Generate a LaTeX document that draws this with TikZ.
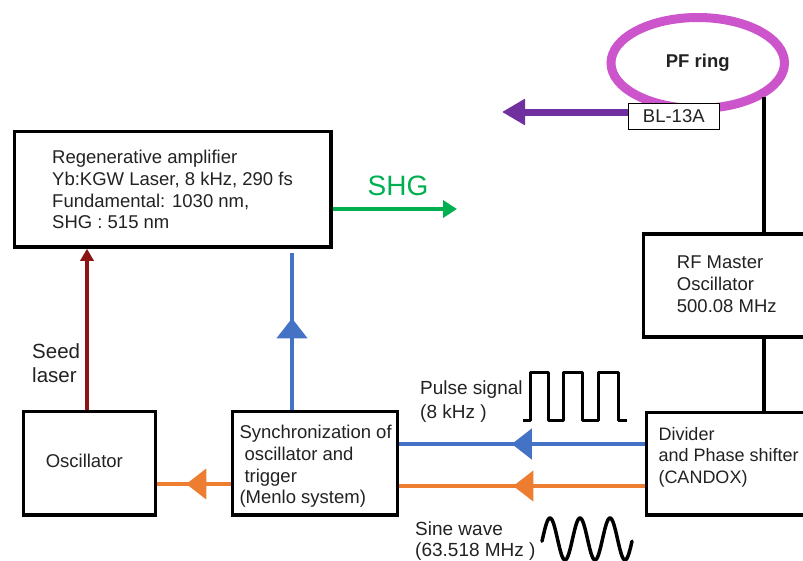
\documentclass[tikz,border=0pt]{standalone}
\usepackage{fontspec}
\setmainfont{Liberation Sans}
\usetikzlibrary{shapes.geometric,arrows.meta,decorations.markings}
\definecolor{cblue}{HTML}{4472C4}
\definecolor{corange}{HTML}{ED7D31}
\definecolor{cgreen}{HTML}{00B050}
\definecolor{cpurple}{HTML}{7030A0}
\definecolor{cring}{HTML}{CC55CC}
\definecolor{cred}{HTML}{8B1414}
\definecolor{ctext}{HTML}{222222}
\begin{document}
\begin{tikzpicture}[x=1pt,y=-1pt,
  box/.style={draw=black, line width=3.5pt, fill=white, inner sep=0pt, rectangle},
  txt/.style={inner sep=0pt, anchor=north west, align=left, text=ctext, font=\fontsize{18.5}{21.7}\selectfont},
  conn/.style={line width=4pt},
  midtri/.style={postaction={decorate}, decoration={markings, mark=at position #1 with {\arrow{Triangle[length=20pt,width=30pt]}}}},
  sig/.style={line width=3pt, line join=round, line cap=round}]
\useasboundingbox (0,0) rectangle (803,560);
% ring and beamline
\node[draw=cring, line width=9pt, ellipse, minimum width=173.5pt, minimum height=91pt, inner sep=0pt,
      font=\fontsize{18.5}{21.7}\selectfont\bfseries, text=ctext] (ring) at (697.75,63) {PF ring};
\coordinate (tap) at (764,97);
\coordinate (bltip) at (502,112);
\coordinate (shgend) at (457,209);
\coordinate (seedx) at (87,0);
\coordinate (syncx) at (292,0);
\coordinate (pulsey) at (0,444);
\coordinate (siney) at (0,486);
\coordinate (osciy) at (0,484);
% boxes
\node[box, minimum width=316.5pt, minimum height=115.5pt] (regen) at (172.75,189.25) {};
\node[box, minimum width=132pt, minimum height=103.5pt] (osc) at (89.5,463.25) {};
\node[box, minimum width=165pt, minimum height=103.5pt] (sync) at (315,463.25) {};
\node[box, minimum width=173.5pt, minimum height=102.5pt] (div) at (733.25,463.75) {};
\node[box, minimum width=176.5pt, minimum height=103pt] (rf) at (731.75,285.5) {};
\node[box, line width=1.5pt, minimum width=91pt, minimum height=26pt, text=ctext,
      font=\fontsize{18.5}{21.7}\selectfont] (bl) at (673.8,116.3) {BL-13A};
% connectors
\draw[conn] (tap) -- (tap |- rf.north);
\draw[conn] (tap |- rf.south) -- (tap |- div.north);
\draw[cpurple, line width=7pt, -{Triangle[length=23pt,width=25pt]}] (bl.west |- bltip) -- (bltip);
\draw[cgreen, line width=4.5pt, -{Triangle[length=14pt,width=17pt]}] (regen.east |- shgend) -- (shgend);
\draw[cred, line width=4.5pt, -{Triangle[length=12pt,width=13pt]}] (seedx |- osc.north) -- (seedx |- regen.south);
\draw[cblue, conn, midtri=91.5pt] (syncx |- sync.north) -- ([yshift=-4pt]syncx |- regen.south);
\draw[cblue, conn, midtri=133pt] (pulsey -| div.west) -- (pulsey -| sync.east);
\draw[corange, conn, midtri=131.5pt] (siney -| div.west) -- (siney -| sync.east);
\draw[corange, conn, midtri=44.5pt] (osciy -| sync.west) -- (osciy -| osc.east);
% signals
\draw[sig, line cap=butt] (523,420) -- (530,420) -- (530,372) -- (548,372) -- (548,420) -- (563,420) -- (563,372)
  -- (582,372) -- (582,420) -- (598,420) -- (598,372) -- (618,372) -- (618,420) -- (627,420);
\draw[sig, line width=3.5pt] plot[domain=542:632, samples=120] (\x, {539 - 21*cos(12*(\x-550))});
% texts
\node[txt] (regent) at (52,150.2) {Regenerative amplifier\\Yb:KGW Laser, 8 kHz, 290 fs\\Fundamental: 1030 nm,\\SHG : 515 nm};
\node[txt, font=\fontsize{18.5}{22}\selectfont] (rft) at (676.7,256) {RF Master\\Oscillator\\500.08 MHz};
\node[txt, font=\fontsize{18}{21.7}\selectfont] (divt) at (658.3,427) {Divider\\and Phase shifter\\(CANDOX)};
\node[txt] (synct) at (239.3,425) {Synchronization of\\\hspace{5pt}oscillator and\\\hspace{5pt}trigger\\(Menlo system)};
\node[inner sep=0pt, anchor=base, text=ctext, font=\fontsize{18.5}{21.7}\selectfont] (osct) at (84.3,467.7) {Oscillator};
\node[txt, font=\fontsize{19}{23.5}\selectfont] (pulset) at (420,381) {Pulse signal\\(8 kHz )};
\node[txt, font=\fontsize{19}{21.5}\selectfont] (sinet) at (415,521.4) {Sine wave\\(63.518 MHz )};
\node[txt, font=\fontsize{20.5}{24.3}\selectfont] (seedt) at (32,343.6) {Seed\\laser};
\node[inner sep=0pt, anchor=base, text=cgreen, font=\fontsize{28}{32}\selectfont] (shgt) at (398,195.5) {SHG};
\end{tikzpicture}
\end{document}
